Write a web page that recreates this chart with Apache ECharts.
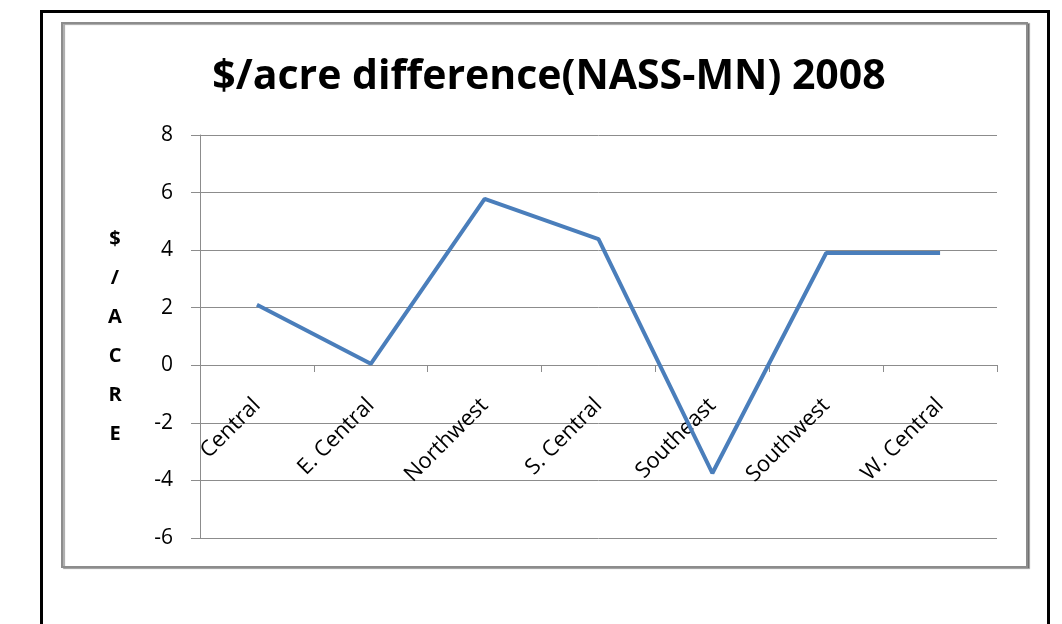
<!DOCTYPE html>
<html>
<head>
<meta charset="utf-8">
<script src="https://cdn.jsdelivr.net/npm/echarts@6/dist/echarts.min.js"></script>
<style>
  html, body { margin: 0; padding: 0; background: #fff; }
  #chart { width: 1062px; height: 624px; }
</style>
</head>
<body>
<div id="chart"></div>
<script>
// 数据
var regions = ['Central', 'E. Central', 'Northwest', 'S. Central', 'Southeast', 'Southwest', 'W. Central'];
var diffValues = [2.1, 0.05, 5.78, 4.38, -3.75, 3.9, 3.9];
var yTicks = { min: -6, max: 8, interval: 2 };

var fontFam = '"Open Sans", Lato, sans-serif';
var chart = echarts.init(document.getElementById('chart'));

var option = {
    animation: false,
    backgroundColor: '#fff',
    title: {
        text: '$/acre difference(NASS-MN) 2008',
        left: 544,
        top: 52,
        textAlign: 'center',
        textStyle: {
            fontFamily: fontFam,
            fontSize: 41,
            fontWeight: 'bold',
            color: '#000'
        }
    },
    grid: {
        left: 200,
        right: 65,
        top: 135,
        bottom: 86,
        containLabel: false,
        outerBoundsMode: 'none'
    },
    xAxis: {
        type: 'category',
        data: regions,
        boundaryGap: true,
        // 把x轴挪到0刻度处
        offset: -173,
        axisLine: { onZero: false, lineStyle: { color: '#8c8c8c', width: 1 } },
        axisTick: { show: true, inside: false, length: 7, lineStyle: { color: '#8c8c8c' } },
        axisLabel: {
            rotate: 45,
            margin: 37,
            color: '#000',
            fontFamily: fontFam,
            fontSize: 22,
            interval: 0
        },
        splitLine: { show: false }
    },
    yAxis: {
        type: 'value',
        min: yTicks.min,
        max: yTicks.max,
        interval: yTicks.interval,
        name: '$\n/\nA\nC\nR\nE',
        nameLocation: 'middle',
        nameRotate: 0,
        nameGap: 85,
        nameTextStyle: {
            align: 'center',
            verticalAlign: 'middle',
            fontFamily: fontFam,
            fontSize: 20,
            fontWeight: 'bold',
            color: '#000',
            lineHeight: 39,
            padding: [8, 0, 0, 0]
        },
        axisLine: { show: true, lineStyle: { color: '#8c8c8c', width: 1 } },
        axisTick: { show: true, inside: false, length: 9, lineStyle: { color: '#8c8c8c' } },
        axisLabel: {
            margin: 27,
            color: '#000',
            fontFamily: fontFam,
            fontSize: 21
        },
        splitLine: { show: true, lineStyle: { color: '#8c8c8c', width: 1 } }
    },
    series: [{
        name: '$/acre difference',
        type: 'line',
        data: diffValues,
        symbol: 'none',
        lineStyle: { color: '#4a7ebb', width: 4 },
        itemStyle: { color: '#4a7ebb' }
    }],
    graphic: [
        {
            type: 'rect',
            silent: true,
            z: -1,
            shape: { x: 41.5, y: 11.5, width: 1007, height: 700 },
            style: { fill: null, stroke: '#000', lineWidth: 3 }
        },
        {
            type: 'rect',
            silent: true,
            z: -1,
            shape: { x: 62, y: 23, width: 965, height: 544 },
            style: {
                fill: '#fff',
                stroke: '#8c8c8c',
                lineWidth: 2,
                shadowColor: 'rgba(0,0,0,0.35)',
                shadowOffsetX: 2,
                shadowOffsetY: 1,
                shadowBlur: 1
            }
        }
    ]
};

chart.setOption(option);
</script>
</body>
</html>
